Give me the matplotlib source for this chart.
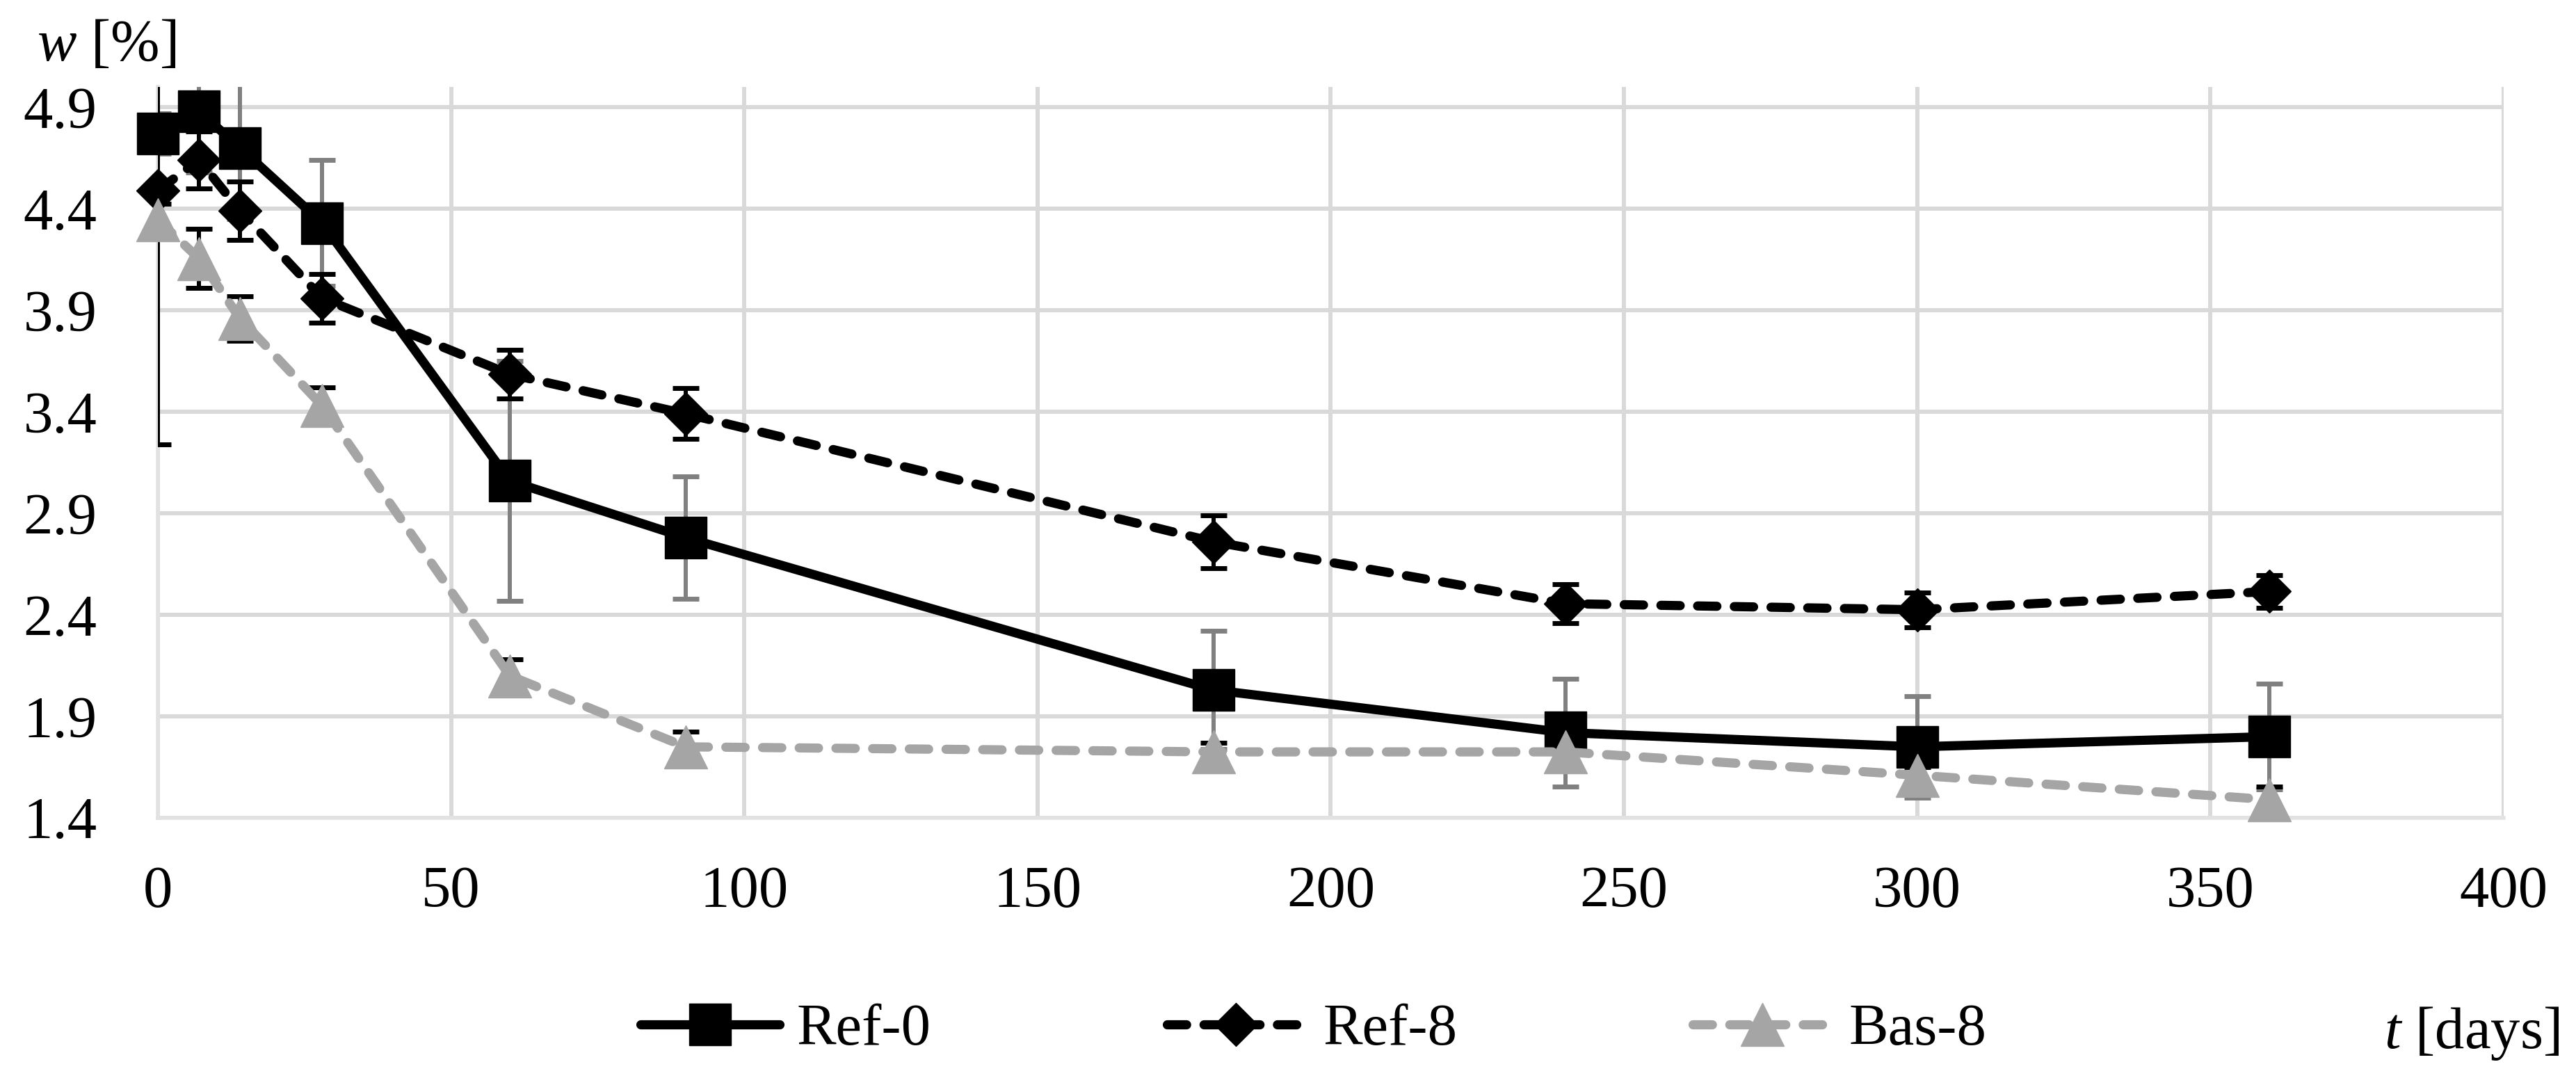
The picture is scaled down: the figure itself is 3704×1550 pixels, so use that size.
import matplotlib
matplotlib.use('Agg')
import matplotlib.pyplot as plt

# time points [days]
days = [0, 7, 14, 28, 60, 90, 180, 240, 300, 360]

# moisture content w [%] and standard deviations
ref0 = [4.77, 4.88, 4.70, 4.33, 3.06, 2.78, 2.03, 1.82, 1.75, 1.80]
ref0_err = [0.10, 0.30, 0.35, 0.31, 0.59, 0.30, 0.29, 0.265, 0.25, 0.26]
ref8 = [4.49, 4.64, 4.39, 3.96, 3.585, 3.39, 2.76, 2.455, 2.425, 2.515]
ref8_err = [1.25, 0.14, 0.145, 0.12, 0.12, 0.125, 0.13, 0.095, 0.085, 0.08]
bas8 = [4.345, 4.155, 3.86, 3.43, 2.10, 1.75, 1.725, 1.725, 1.61, 1.49]
bas8_err = [0.08, 0.145, 0.11, 0.09, 0.08, 0.075, 0.045, 0.04, 0.04, 0.065]

y_ticks = [1.4, 1.9, 2.4, 2.9, 3.4, 3.9, 4.4, 4.9]
x_ticks = [0, 50, 100, 150, 200, 250, 300, 350, 400]

plt.rcParams['font.family'] = ['Liberation Serif', 'DejaVu Serif']
plt.rcParams['mathtext.fontset'] = 'custom'
plt.rcParams['mathtext.rm'] = 'Liberation Serif'
plt.rcParams['mathtext.it'] = 'Liberation Serif:italic'

fs = 61
grid_col = '#D9D9D9'

fig = plt.figure(figsize=(37.04, 15.5), dpi=100)
ax = fig.add_axes([0.0613, 0.2413, 0.9106, 0.6781])

series = [
    # name, values, errors, colour, error colour, line style, marker, marker size
    ('Ref-0', ref0, ref0_err, 'black', '#808080', '-', 's', 43),
    ('Ref-8', ref8, ref8_err, 'black', 'black', (0, (2.1, 1.9)), 'D', 32),
    ('Bas-8', bas8, bas8_err, '#A5A5A5', 'black', (0, (2.1, 1.9)), '^', 45),
]

handles = []
for i, (name, vals, errs, col, ecol, ls, mk, ms) in enumerate(series):
    # error bars sit above the spines so the one on x=0 stays visible
    ax.errorbar(days, vals, yerr=errs, fmt='none', ecolor=ecol,
                elinewidth=4.3, capsize=13.7, capthick=5, zorder=2.6 + i * 0.1)
    line, = ax.plot(days, vals, color=col, linestyle=ls, linewidth=9.5,
                    dash_capstyle='round', solid_capstyle='round',
                    marker=mk, markersize=ms, markerfacecolor=col,
                    markeredgecolor=col, markeredgewidth=1,
                    label=name, clip_on=False, zorder=3 + i)
    handles.append(line)

ax.set_xlim(0, 400)
ax.set_ylim(1.4, 5.0)
ax.set_xticks(x_ticks)
ax.set_yticks(y_ticks)
ax.set_yticklabels([f'{v:.1f}' for v in y_ticks])
ax.tick_params(axis='both', length=0, labelsize=fs)
ax.tick_params(axis='y', pad=63)
ax.tick_params(axis='x', pad=50)

ax.grid(True, color=grid_col, linewidth=4.3, zorder=0)
ax.set_axisbelow(True)
for side in ['top', 'right']:
    ax.spines[side].set_visible(False)
for side in ['left', 'bottom']:
    ax.spines[side].set_color('#E2E2E2')
    ax.spines[side].set_linewidth(4)

fig.text(0.0143, 0.944, '$w$ [%]', fontsize=fs, va='baseline', ha='left')
fig.text(0.9935, 0.0277, '$t$ [days]', fontsize=fs, va='baseline', ha='right')

fig.legend(handles=handles, loc='center', bbox_to_anchor=(0.51, 0.044),
           ncol=3, frameon=False, fontsize=fs, handlelength=2.35,
           handletextpad=0.3, columnspacing=4.0)

fig.savefig('out.png', dpi=100)
